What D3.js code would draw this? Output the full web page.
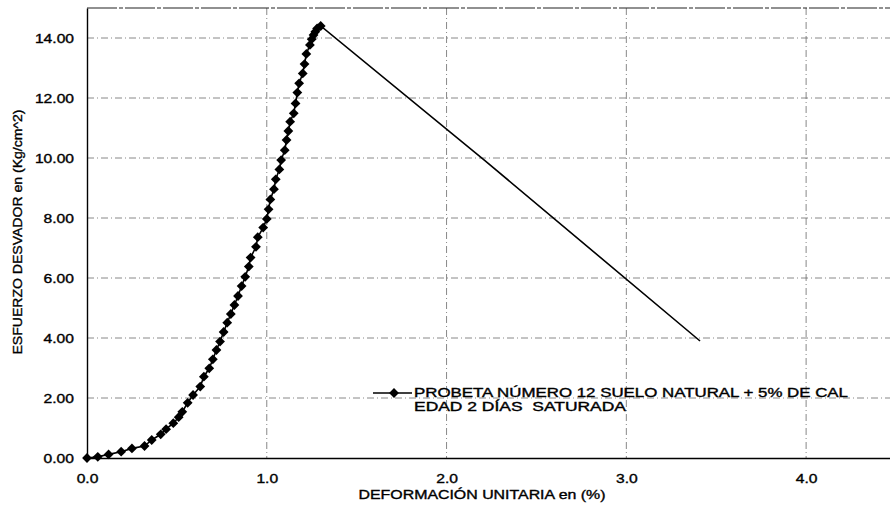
<!DOCTYPE html>
<html>
<head>
<meta charset="utf-8">
<script src="https://cdn.jsdelivr.net/npm/d3@7"></script>
<style>
  body { margin: 0; background: #fff; }
  svg text { font-family: "Liberation Sans", Arial, sans-serif; fill: #000; }
</style>
</head>
<body>
<svg id="chart" width="890" height="507"></svg>
<script>
// datos (deformacion %, esfuerzo kg/cm2)
const strain = [0.00, 0.06, 0.12, 0.19, 0.25, 0.32, 0.36, 0.41, 0.44, 0.48,
  0.51, 0.53, 0.56, 0.59, 0.63, 0.65, 0.68, 0.70, 0.72, 0.74,
  0.76, 0.78, 0.80, 0.82, 0.84, 0.86, 0.88, 0.90, 0.91, 0.94,
  0.95, 0.98, 1.00, 1.01, 1.02, 1.04, 1.05, 1.07, 1.08, 1.10,
  1.11, 1.12, 1.13, 1.15, 1.16, 1.17, 1.18, 1.20, 1.21, 1.22,
  1.24, 1.25, 1.26, 1.27, 1.28, 1.30];
const stress = [0.00, 0.04, 0.12, 0.21, 0.32, 0.40, 0.60, 0.79, 0.96, 1.16,
  1.36, 1.54, 1.84, 2.10, 2.38, 2.71, 2.99, 3.29, 3.60, 3.88,
  4.20, 4.51, 4.80, 5.10, 5.40, 5.73, 6.04, 6.38, 6.68, 7.04,
  7.36, 7.68, 7.97, 8.29, 8.62, 8.96, 9.29, 9.62, 9.93, 10.26,
  10.60, 10.90, 11.21, 11.49, 11.82, 12.18, 12.49, 12.82, 13.13, 13.47,
  13.77, 13.96, 14.10, 14.21, 14.32, 14.40];
// tramo de falla (sin marcadores)
const failStrain = [1.30, 2.21, 3.41];
const failStress = [14.40, 9.93, 3.90];

const xTicks = [0, 1, 2, 3, 4];
const yTicks = [0, 2, 4, 6, 8, 10, 12, 14];
const legendLines = ["PROBETA NÚMERO 12 SUELO NATURAL + 5% DE CAL", "EDAD 2 DÍAS  SATURADA"];
const xTitle = "DEFORMACIÓN UNITARIA en (%)";
const yTitle = "ESFUERZO DESVADOR en (Kg/cm^2)";

const svg = d3.select("#chart");

const x = d3.scaleLinear().domain([0, 4.5]).range([87, 896]);
const y = d3.scaleLinear().domain([0, 15]).range([458, 8]);

// el escaneo ensancha las letras, se estiran un poco
function stretch(sel, k) {
  sel.each(function () {
    const len = this.getComputedTextLength();
    d3.select(this).attr("textLength", len * k).attr("lengthAdjust", "spacingAndGlyphs");
  });
}

// rejilla
const grid = svg.append("g")
  .attr("stroke", "#6a6a6a")
  .attr("stroke-width", 0.8)
  .attr("stroke-dasharray", "7,3,1,3");

grid.selectAll("line.h")
  .data(yTicks.filter(d => d > 0))
  .join("line")
  .attr("class", "h")
  .attr("x1", x(0)).attr("x2", x(4.5))
  .attr("y1", d => y(d)).attr("y2", d => y(d));

grid.selectAll("line.v")
  .data(xTicks.filter(d => d > 0))
  .join("line")
  .attr("class", "v")
  .attr("x1", d => x(d)).attr("x2", d => x(d))
  .attr("y1", y(15)).attr("y2", y(0));

// borde superior
svg.append("line")
  .attr("x1", x(0)).attr("x2", x(4.5))
  .attr("y1", y(15)).attr("y2", y(15))
  .attr("stroke", "#222").attr("stroke-width", 1.2)
  .attr("stroke-dasharray", "30,2,4,2");

// ejes
const xAxis = svg.append("g")
  .attr("transform", `translate(0,${y(0)})`)
  .call(d3.axisBottom(x).tickValues(xTicks).tickSize(0).tickPadding(16).tickFormat(d3.format(".1f")));
const yAxis = svg.append("g")
  .attr("transform", `translate(${x(0)},0)`)
  .call(d3.axisLeft(y).tickValues(yTicks).tickSize(0).tickPadding(13).tickFormat(d3.format(".2f")));

[xAxis, yAxis].forEach(a => {
  a.select(".domain").attr("stroke", "#000").attr("stroke-width", 1.4);
  a.selectAll("text")
    .style("font-size", "12.5px")
    .attr("stroke", "#000").attr("stroke-width", 0.35)
    .call(stretch, 1.25);
});
yAxis.selectAll("text").attr("dy", "0.36em");

// serie
const pts = strain.map((s, i) => ({ x: s, y: stress[i] }));
const failPts = failStrain.map((s, i) => ({ x: s, y: failStress[i] }));
const line = d3.line().x(d => x(d.x)).y(d => y(d.y));

svg.append("path")
  .datum(pts.concat(failPts.slice(1)))
  .attr("fill", "none")
  .attr("stroke", "#000")
  .attr("stroke-width", 1.6)
  .attr("d", line);

const diamond = d3.symbol().type(d3.symbolSquare).size(48);
svg.append("g")
  .selectAll("path")
  .data(pts)
  .join("path")
  .attr("d", diamond)
  .attr("fill", "#000")
  .attr("transform", d => `translate(${x(d.x)},${y(d.y)}) rotate(45)`);

// leyenda
const leg = svg.append("g");
leg.append("line")
  .attr("x1", 373).attr("x2", 412).attr("y1", 393).attr("y2", 393)
  .attr("stroke", "#000").attr("stroke-width", 1.6);
leg.append("path")
  .attr("d", diamond)
  .attr("fill", "#000")
  .attr("transform", "translate(394,393) rotate(45)");
const legText = leg.selectAll("text")
  .data(legendLines)
  .join("text")
  .attr("x", 414)
  .attr("y", (d, i) => 397 + i * 13.5)
  .style("font-size", "12px")
  .style("white-space", "pre")
  .attr("stroke", "#000").attr("stroke-width", 0.35)
  .text(d => d);
legText.filter((d, i) => i === 0).attr("textLength", 434).attr("lengthAdjust", "spacingAndGlyphs");
legText.filter((d, i) => i === 1).attr("textLength", 212).attr("lengthAdjust", "spacingAndGlyphs");

// titulos de ejes
svg.append("text")
  .attr("x", 482).attr("y", 499)
  .attr("text-anchor", "middle")
  .style("font-size", "12.5px")
  .attr("stroke", "#000").attr("stroke-width", 0.35)
  .attr("textLength", 247).attr("lengthAdjust", "spacingAndGlyphs")
  .text(xTitle);

svg.append("text")
  .attr("transform", "translate(22,232) rotate(-90)")
  .attr("text-anchor", "middle")
  .style("font-size", "13px")
  .attr("stroke", "#000").attr("stroke-width", 0.35)
  .attr("textLength", 245).attr("lengthAdjust", "spacingAndGlyphs")
  .text(yTitle);
</script>
</body>
</html>
